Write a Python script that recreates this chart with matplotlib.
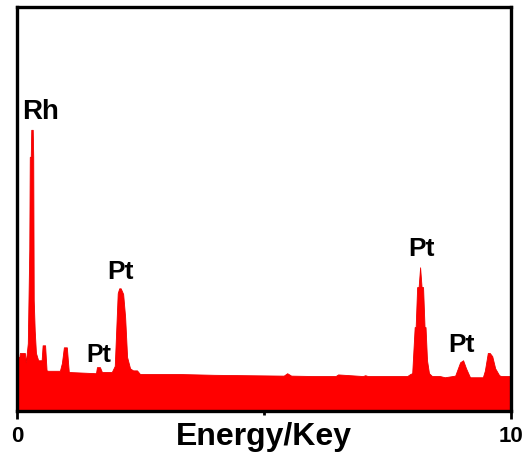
import matplotlib
matplotlib.use('Agg')
import matplotlib.pyplot as plt

plt.rcParams['font.family'] = ['Liberation Sans', 'DejaVu Sans']
plt.rcParams['font.weight'] = 'bold'

# EDS spectrum (energy in keV, counts in arbitrary units)
energy = [0.00, 0.05, 0.06, 0.16, 0.18, 0.22, 0.25, 0.26, 0.28, 0.29, 0.32, 0.33,
          0.34, 0.36, 0.385, 0.43, 0.50, 0.52, 0.57, 0.60, 0.63, 0.87, 0.91, 0.95,
          1.01, 1.05, 1.60, 1.62, 1.68, 1.72, 1.92, 1.98, 2.04, 2.07, 2.10, 2.15,
          2.19, 2.23, 2.29, 2.35, 2.43, 2.49, 3.30, 4.00, 5.40, 5.47, 5.55, 6.00,
          6.45, 6.50, 7.00, 7.05, 7.10, 7.90, 7.96, 8.00, 8.05, 8.07, 8.10, 8.13,
          8.16, 8.19, 8.22, 8.25, 8.27, 8.30, 8.34, 8.40, 8.56, 8.66, 8.87, 8.97,
          9.03, 9.09, 9.17, 9.27, 9.43, 9.47, 9.53, 9.57, 9.62, 9.68, 9.76, 9.80,
          10.00]
counts = [13.4, 13.4, 14.4, 14.4, 12.1, 16.8, 40.0, 62.9, 63.0, 69.6, 69.6, 63.0,
          27.5, 20.0, 14.4, 12.6, 12.6, 16.3, 16.3, 10.1, 10.0, 10.0, 11.9, 15.8,
          15.8, 9.7, 9.4, 10.9, 10.9, 9.7, 9.7, 11.2, 29.2, 30.4, 30.4, 29.0,
          23.3, 13.4, 10.6, 10.1, 10.1, 9.2, 9.2, 9.0, 8.8, 9.4, 8.8, 8.7,
          8.7, 9.1, 8.7, 8.9, 8.7, 8.7, 9.2, 9.4, 20.8, 20.8, 30.7, 30.7,
          35.6, 30.7, 30.7, 20.8, 20.8, 12.6, 9.4, 8.7, 8.7, 8.4, 8.8, 12.1,
          12.6, 10.6, 8.4, 8.4, 8.4, 10.0, 14.4, 14.4, 13.6, 10.6, 8.9, 8.7,
          8.7]

peak_labels = ['Rh', 'Pt', 'Pt', 'Pt', 'Pt']
label_x = [0.47, 1.66, 2.10, 8.18, 9.00]
label_y = [74.0, 13.9, 34.4, 40.0, 16.3]
label_size = [20, 18, 19, 19, 19]

fig = plt.figure(figsize=(5.29, 4.61), dpi=100)
ax = fig.add_axes([0.032, 0.108, 0.934, 0.877])

ax.fill_between(energy, counts, 0, color='#ff0000', linewidth=0.6, edgecolor='#ee0000')

for txt, x, y, s in zip(peak_labels, label_x, label_y, label_size):
    ax.text(x, y, txt, ha='center', va='center', fontsize=s, fontweight='bold')

ax.set_xlim(0, 10)
ax.set_ylim(0, 100)
ax.set_xticks([0, 10])
ax.set_xticks([5], minor=True)
ax.set_xticklabels(['0', '10'])
ax.set_yticks([])
ax.tick_params(axis='x', which='major', direction='out', length=6, width=2,
               labelsize=16, pad=5)
ax.tick_params(axis='x', which='minor', direction='out', length=3, width=2)
for sp in ax.spines.values():
    sp.set_linewidth(2.4)

ax.set_xlabel('Energy/Key', fontsize=23, fontweight='bold')
ax.xaxis.set_label_coords(0.5, -0.027)

fig.savefig('out.png', dpi=100)
